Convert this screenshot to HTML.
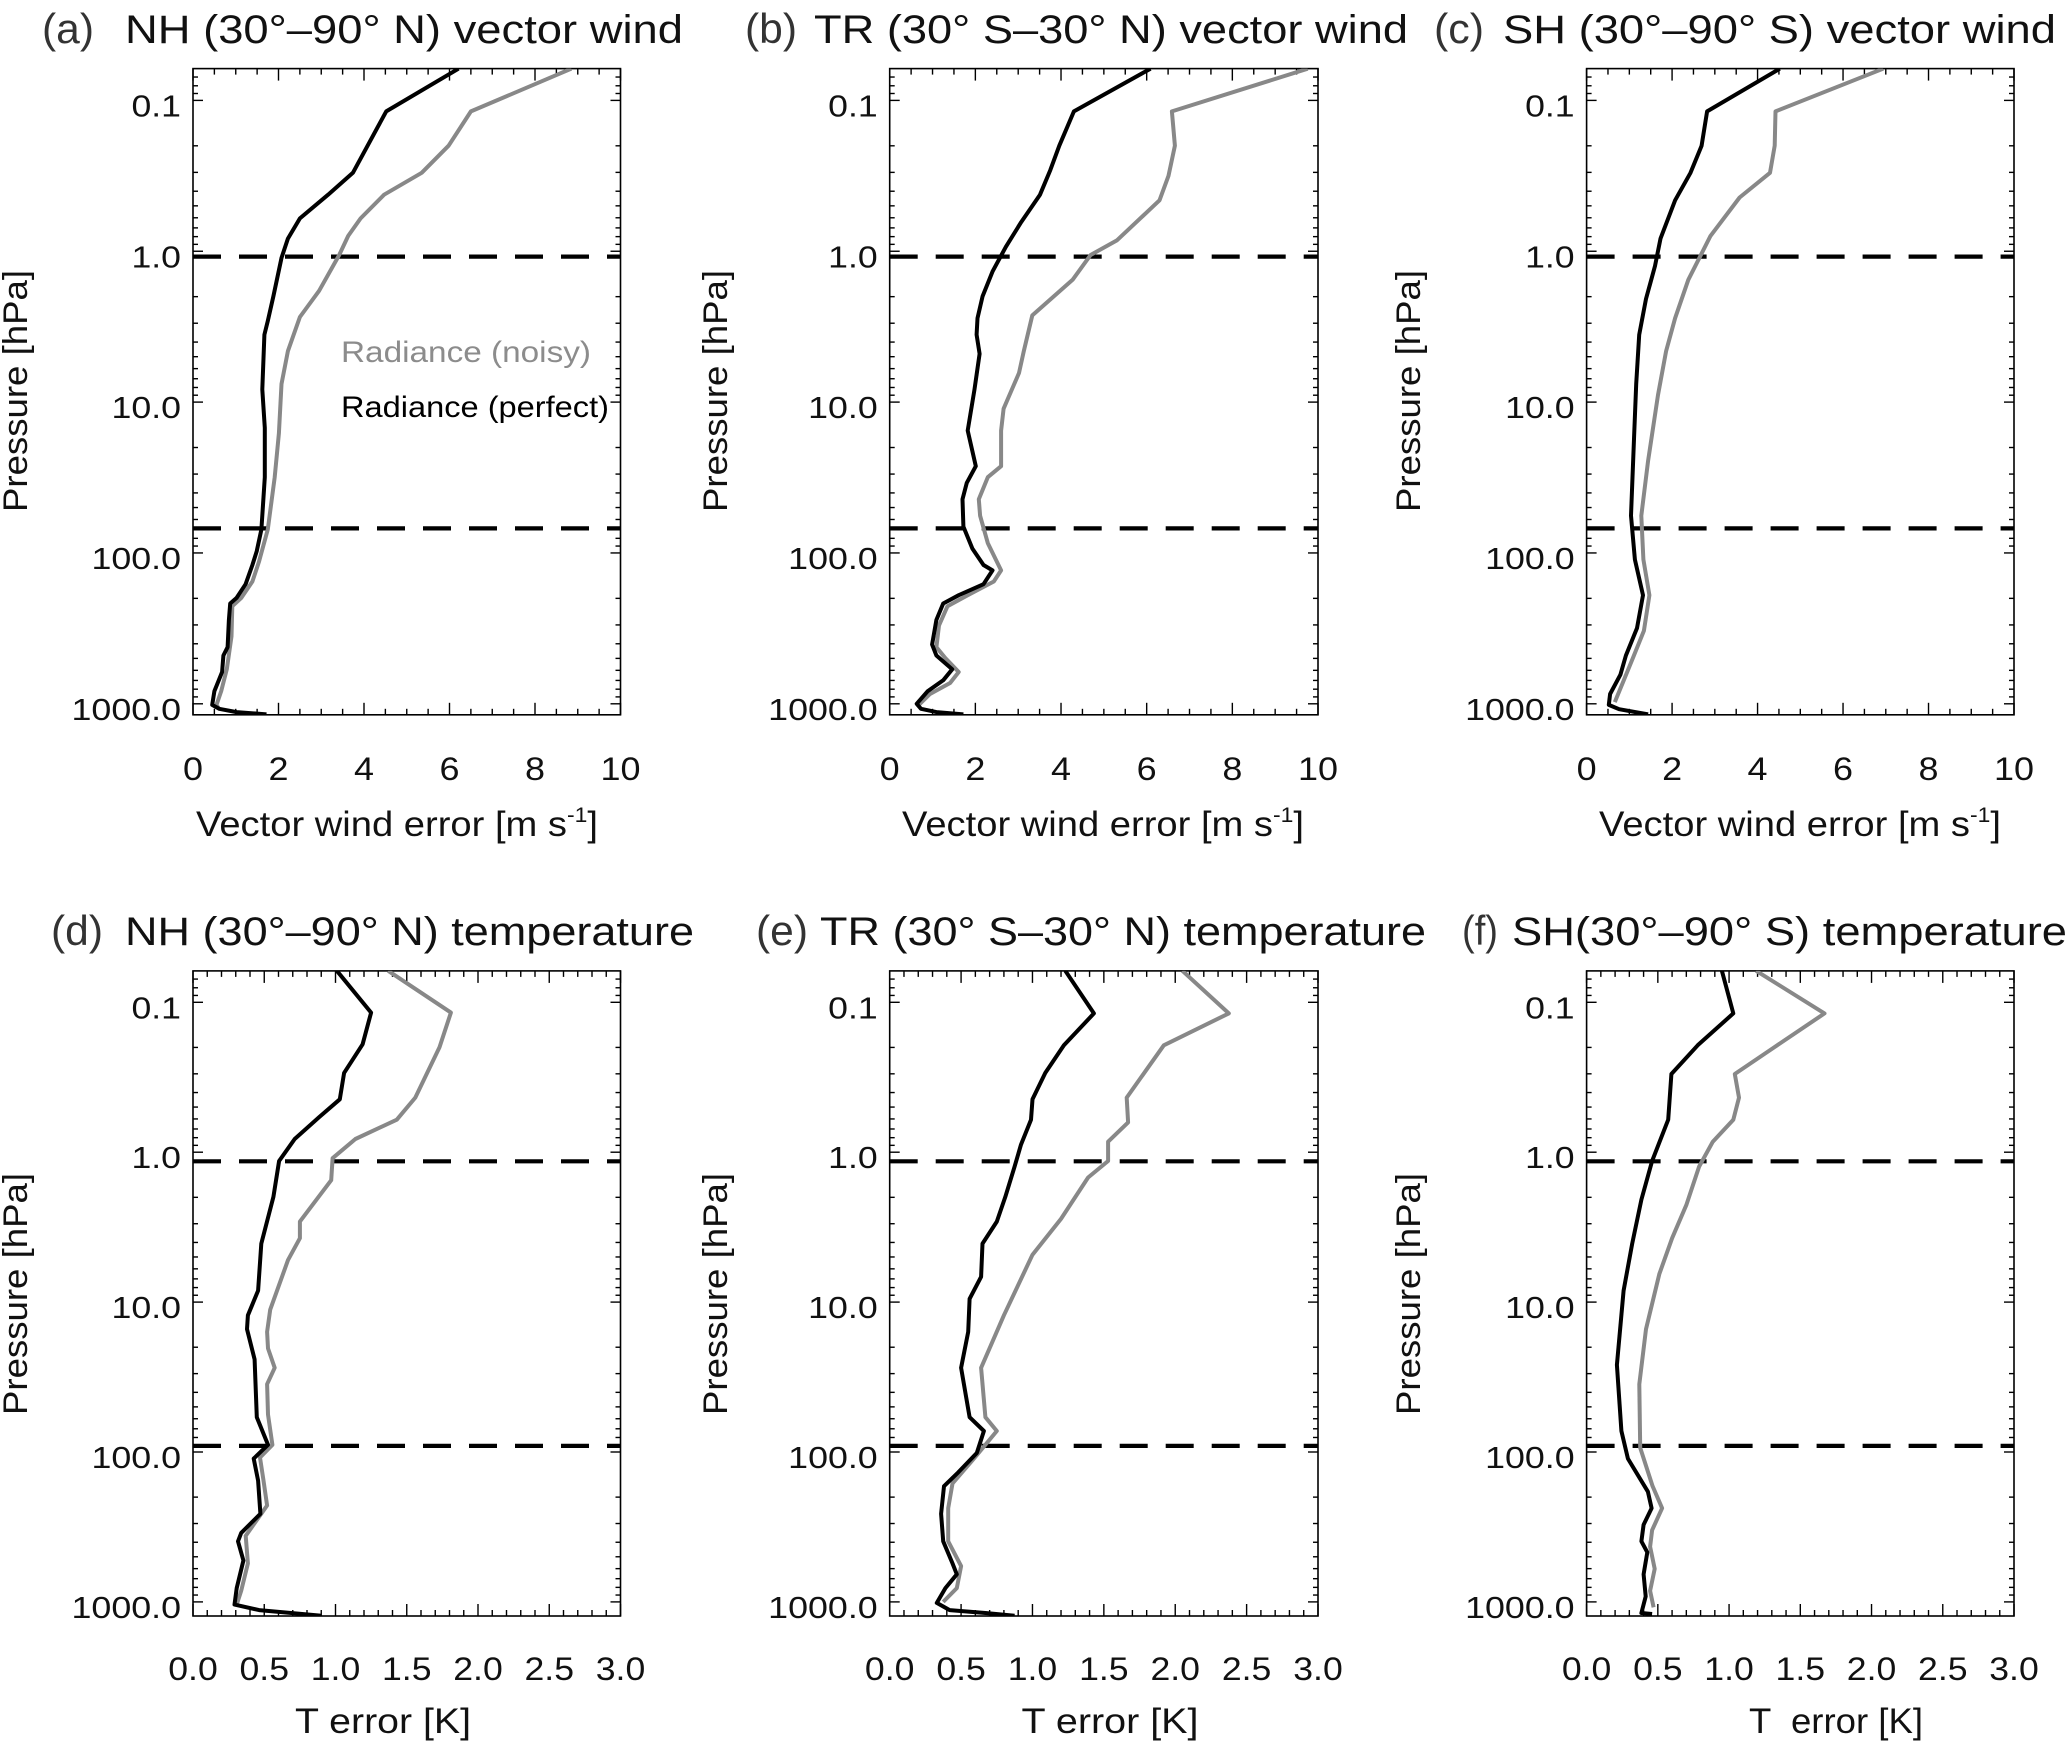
<!DOCTYPE html>
<html><head><meta charset="utf-8"><style>
html,body{margin:0;padding:0;background:#fff;}
svg{display:block;font-family:"Liberation Sans",Arial,sans-serif;}
</style></head><body>
<svg id="fig" width="2067" height="1744" viewBox="0 0 2067 1744" xmlns="http://www.w3.org/2000/svg"></svg>
<script>
// ---- data (x = error value, lp = log10 pressure [hPa]) ----
const aBlackX=[6.21,4.52,3.74,3.16,2.5,2.22,2.07,1.88,1.75,1.67,1.62,1.68,1.68,1.60,1.49,1.39,1.23,1.02,0.87,0.84,0.81,0.71,0.68,0.50,0.45,0.61,1.02,1.72];
const aBlackLP=[-1.21,-0.927,-0.52,-0.375,-0.218,-0.084,0.044,0.298,0.462,0.553,0.916,1.171,1.498,1.844,1.989,2.08,2.207,2.298,2.335,2.444,2.625,2.68,2.789,2.916,3.007,3.033,3.055,3.07];
const aGrayX=[8.85,6.5,5.98,5.35,4.47,3.92,3.63,3.42,2.95,2.5,2.22,2.07,2.01,1.91,1.75,1.54,1.39,1.13,0.92,0.90,0.79,0.66,0.55,0.6];
const aGrayLP=[-1.21,-0.927,-0.70,-0.52,-0.375,-0.218,-0.102,0.025,0.262,0.436,0.662,0.88,1.207,1.498,1.844,2.062,2.189,2.298,2.353,2.553,2.771,2.916,3.007,3.03];
const bBlackX=[6.09,4.30,3.96,3.75,3.51,3.07,2.71,2.40,2.17,2.05,2.03,2.10,1.98,1.82,2.01,1.80,1.70,1.72,1.93,2.19,2.40,2.19,1.61,1.25,1.09,0.99,1.09,1.46,1.25,0.89,0.63,0.73,1.09,1.72];
const bBlackLP=[-1.21,-0.927,-0.70,-0.538,-0.375,-0.193,-0.029,0.135,0.298,0.444,0.553,0.68,0.916,1.189,1.425,1.535,1.644,1.825,1.971,2.08,2.116,2.207,2.28,2.335,2.444,2.607,2.68,2.771,2.844,2.916,3.0,3.033,3.055,3.07];
const bGrayX=[9.76,6.59,6.66,6.51,6.30,5.31,4.69,4.27,3.33,3.13,3.02,2.66,2.60,2.60,2.29,2.08,2.11,2.29,2.60,2.43,1.82,1.35,1.15,1.09,1.30,1.61,1.41,0.94,0.68];
const bGrayLP=[-1.21,-0.927,-0.70,-0.50,-0.338,-0.073,0.025,0.189,0.425,0.662,0.807,1.044,1.189,1.425,1.498,1.644,1.753,1.935,2.116,2.189,2.28,2.353,2.48,2.625,2.698,2.789,2.862,2.935,3.007];
const cBlackX=[4.52,2.82,2.69,2.43,2.07,1.73,1.60,1.39,1.23,1.16,1.11,1.04,1.13,1.32,1.18,0.92,0.79,0.55,0.52,0.76,1.44];
const cBlackLP=[-1.21,-0.927,-0.70,-0.52,-0.338,-0.084,0.098,0.316,0.553,0.88,1.244,1.753,2.044,2.28,2.498,2.68,2.807,2.935,3.007,3.036,3.07];
const cGrayX=[6.94,4.42,4.40,4.29,3.58,2.90,2.38,2.07,1.86,1.67,1.44,1.28,1.33,1.47,1.34,1.08,0.87,0.66];
const cGrayLP=[-1.21,-0.927,-0.70,-0.52,-0.356,-0.102,0.189,0.444,0.662,0.953,1.389,1.753,2.044,2.28,2.516,2.698,2.844,2.989];
const dBlackX=[1.01,1.25,1.19,1.06,1.03,0.886,0.714,0.604,0.564,0.479,0.457,0.385,0.379,0.432,0.448,0.526,0.426,0.457,0.473,0.338,0.316,0.354,0.307,0.291,0.464,0.902];
const dBlackLP=[-1.21,-0.931,-0.72,-0.529,-0.353,-0.235,-0.088,0.059,0.298,0.61,0.923,1.088,1.18,1.382,1.768,1.952,2.044,2.191,2.412,2.54,2.596,2.724,2.908,3.018,3.055,3.092];
const dGrayX=[1.37,1.81,1.73,1.56,1.43,1.14,0.98,0.97,0.75,0.75,0.667,0.542,0.52,0.526,0.573,0.52,0.526,0.557,0.47,0.495,0.52,0.37,0.385,0.338,0.307];
const dGrayLP=[-1.21,-0.931,-0.70,-0.364,-0.217,-0.088,0.04,0.187,0.463,0.574,0.72,1.051,1.199,1.309,1.438,1.548,1.75,1.952,2.037,2.191,2.357,2.559,2.743,2.926,3.018];
const eBlackX=[1.23,1.43,1.22,1.09,1.0,0.99,0.92,0.875,0.81,0.75,0.65,0.64,0.56,0.55,0.50,0.56,0.66,0.61,0.48,0.38,0.36,0.375,0.44,0.47,0.39,0.33,0.42,0.67,0.875];
const eBlackLP=[-1.21,-0.926,-0.713,-0.529,-0.353,-0.217,-0.051,0.096,0.298,0.463,0.61,0.831,0.978,1.199,1.438,1.768,1.86,2.007,2.136,2.228,2.412,2.596,2.743,2.816,2.908,3.007,3.055,3.074,3.092];
const eGrayX=[2.05,2.375,1.92,1.66,1.67,1.53,1.53,1.39,1.20,1.00,0.80,0.64,0.67,0.75,0.59,0.44,0.41,0.41,0.50,0.47,0.375];
const eGrayLP=[-1.21,-0.926,-0.713,-0.364,-0.199,-0.07,0.059,0.169,0.445,0.684,1.088,1.438,1.768,1.86,2.044,2.21,2.375,2.596,2.761,2.908,3.0];
const fBlackX=[0.95,1.03,0.78,0.595,0.573,0.46,0.385,0.32,0.26,0.213,0.244,0.29,0.43,0.456,0.40,0.385,0.426,0.40,0.415,0.385,0.46];
const fBlackLP=[-1.21,-0.926,-0.713,-0.522,-0.217,0.059,0.316,0.61,0.923,1.419,1.86,2.044,2.265,2.375,2.485,2.596,2.669,2.816,2.963,3.074,3.081];
const fGrayX=[1.19,1.67,1.31,1.04,1.07,1.03,0.886,0.79,0.70,0.60,0.51,0.417,0.37,0.376,0.463,0.53,0.46,0.446,0.478,0.446,0.47];
const fGrayLP=[-1.21,-0.926,-0.695,-0.522,-0.364,-0.217,-0.07,0.096,0.353,0.574,0.813,1.18,1.548,1.971,2.228,2.375,2.522,2.632,2.779,2.926,3.036];
const yTickValues=[0.1,1,10,100,1000];
const yTickLabels=["0.1","1.0","10.0","100.0","1000.0"];
const windTickLabels=["0","2","4","6","8","10"];
const tempTickLabels=["0.0","0.5","1.0","1.5","2.0","2.5","3.0"];
const dashedPressures=[[1.086,68.7],[1.15,91]];

const NS="http://www.w3.org/2000/svg";
const svg=document.getElementById('fig');
function mk(tag,attrs,parent){const e=document.createElementNS(NS,tag);for(const k in attrs)e.setAttribute(k,attrs[k]);(parent||svg).appendChild(e);return e;}
function lblW(s){let w=0;for(const ch of s)w+=(ch==='.')?9.5:20;return w;}

const rows=[{top:68.6,bot:714.8,y01:100.4,dec:150.85,xtickY:780,xtitleY:836,titleY:43,ylabCY:391},
            {top:970.9,bot:1616,y01:1002.3,dec:149.9,xtickY:1680,xtitleY:1733,titleY:945,ylabCY:1294}];
const cols=[{l:193,r:620.5,ylabX:27},{l:889.7,r:1318,ylabX:727},{l:1586.6,r:2014,ylabX:1420}];

const panels=[
 {id:'a',row:0,col:0,xmax:10,maj:2,min:0.5,ticks:windTickLabels,bx:aBlackX,by:aBlackLP,gx:aGrayX,gy:aGrayLP,
  lab:'(a)',labX:42,labW:52,title:'NH (30°–90° N) vector wind',tX:125,tW:558,xt:'wind',xtC:397,xtW:402},
 {id:'b',row:0,col:1,xmax:10,maj:2,min:0.5,ticks:windTickLabels,bx:bBlackX,by:bBlackLP,gx:bGrayX,gy:bGrayLP,
  lab:'(b)',labX:745,labW:52,title:'TR (30° S–30° N) vector wind',tX:814,tW:594,xt:'wind',xtC:1103,xtW:402},
 {id:'c',row:0,col:2,xmax:10,maj:2,min:0.5,ticks:windTickLabels,bx:cBlackX,by:cBlackLP,gx:cGrayX,gy:cGrayLP,
  lab:'(c)',labX:1434,labW:50,title:'SH (30°–90° S) vector wind',tX:1503,tW:553,xt:'wind',xtC:1800,xtW:402},
 {id:'d',row:1,col:0,xmax:3,maj:0.5,min:0.1,ticks:tempTickLabels,bx:dBlackX,by:dBlackLP,gx:dGrayX,gy:dGrayLP,
  lab:'(d)',labX:51,labW:52,title:'NH (30°–90° N) temperature',tX:125,tW:569,xt:'T error [K]',xtC:383,xtW:176},
 {id:'e',row:1,col:1,xmax:3,maj:0.5,min:0.1,ticks:tempTickLabels,bx:eBlackX,by:eBlackLP,gx:eGrayX,gy:eGrayLP,
  lab:'(e)',labX:756,labW:52,title:'TR (30° S–30° N) temperature',tX:820,tW:606,xt:'T error [K]',xtC:1110,xtW:177},
 {id:'f',row:1,col:2,xmax:3,maj:0.5,min:0.1,ticks:tempTickLabels,bx:fBlackX,by:fBlackLP,gx:fGrayX,gy:fGrayLP,
  lab:'(f)',labX:1462,labW:36,title:'SH(30°–90° S) temperature',tX:1512,tW:555,xt:'T  error [K]',xtC:1836,xtW:174}
];

panels.forEach(P=>{
  const R=rows[P.row],C=cols[P.col];
  const g=mk('g',{});
  
  
  const xs=v=>C.l+(v/P.xmax)*(C.r-C.l);
  const ys=lp=>R.y01+(lp+1)*R.dec;
  const cp=mk('clipPath',{id:'clip'+P.id},g);
  mk('rect',{x:C.l,y:R.top,width:C.r-C.l,height:R.bot-R.top},cp);
  const lab=mk('text',{x:P.labX,y:R.titleY,'font-size':42,fill:'#333',textLength:P.labW,lengthAdjust:'spacingAndGlyphs'},g);
  lab.textContent=P.lab;
  
  
  const t=mk('text',{x:P.tX,y:R.titleY,'font-size':40,fill:'#111',textLength:P.tW,lengthAdjust:'spacingAndGlyphs'},g);
  t.textContent=P.title;
  
  
  const lpMin=(R.top-R.y01)/R.dec-1, lpMax=(R.bot-R.y01)/R.dec-1;
  for(let d=-2;d<=3;d++){for(let m=1;m<=9;m++){
    const lp=d+Math.log10(m); if(lp<lpMin||lp>lpMax)continue;
    const len=m===1?10:5, y=ys(lp);
    mk('line',{x1:C.l,x2:C.l+len,y1:y,y2:y,stroke:'#000','stroke-width':1.4},g);
    mk('line',{x1:C.r,x2:C.r-len,y1:y,y2:y,stroke:'#000','stroke-width':1.4},g);
  }}
  yTickValues.forEach((v,i)=>{
    const s=yTickLabels[i];
    const tt=mk('text',{x:C.l-12,y:ys(Math.log10(v))+16,'font-size':31,'text-anchor':'end',fill:'#111',textLength:lblW(s),lengthAdjust:'spacingAndGlyphs'},g);
    tt.textContent=s;
    
    
  });
  const nMin=Math.round(P.xmax/P.min);
  for(let k=0;k<=nMin;k++){
    const v=k*P.min, isMaj=Math.abs(v/P.maj-Math.round(v/P.maj))<1e-6, len=isMaj?12:6, x=xs(v);
    mk('line',{x1:x,x2:x,y1:R.bot,y2:R.bot-len,stroke:'#000','stroke-width':1.4},g);
    mk('line',{x1:x,x2:x,y1:R.top,y2:R.top+len,stroke:'#000','stroke-width':1.4},g);
  }
  P.ticks.forEach((s,i)=>{
    const tt=mk('text',{x:xs(i*P.maj),y:R.xtickY,'font-size':32,'text-anchor':'middle',fill:'#111',textLength:lblW(s),lengthAdjust:'spacingAndGlyphs'},g);
    tt.textContent=s;
    
    
  });
  const box=mk('rect',{x:C.l,y:R.top,width:C.r-C.l,height:R.bot-R.top,fill:'none',stroke:'#000','stroke-width':1.6},g);
  
  
  dashedPressures[P.row].forEach(p=>{
    const y=ys(Math.log10(p));
    const dl=mk('line',{x1:C.l,x2:C.r,y1:y,y2:y,stroke:'#000','stroke-width':4.2,'stroke-dasharray':'28 18'},g);
    
    
  });
  const path=(X,Y)=>X.map((v,i)=>(i?'L':'M')+xs(v).toFixed(1)+' '+ys(Y[i]).toFixed(1)).join(' ');
  const gp=mk('path',{d:path(P.gx,P.gy),fill:'none',stroke:'#888','stroke-width':4,'stroke-linejoin':'round','clip-path':'url(#clip'+P.id+')'},g);
  
  
  const bp=mk('path',{d:path(P.bx,P.by),fill:'none',stroke:'#000','stroke-width':4,'stroke-linejoin':'round','clip-path':'url(#clip'+P.id+')'},g);
  
  
  const yt=mk('text',{x:0,y:0,'font-size':34,'text-anchor':'middle',fill:'#111',textLength:242,lengthAdjust:'spacingAndGlyphs',transform:'translate('+C.ylabX+','+R.ylabCY+') rotate(-90)'},g);
  yt.textContent='Pressure [hPa]';
  
  
  const xt=mk('text',{x:P.xtC,y:R.xtitleY,'font-size':35,'text-anchor':'middle',fill:'#111'},g);
  xt.setAttribute('textLength',P.xtW);
  xt.setAttribute('lengthAdjust','spacingAndGlyphs');
  if(P.xt==='wind'){
    xt.appendChild(document.createTextNode('Vector wind error [m s'));
    const sup=mk('tspan',{'font-size':21,dy:-14},xt); sup.textContent='-1';
    const rest=mk('tspan',{dy:14},xt); rest.textContent=']';
  } else {
    xt.style.whiteSpace='pre'; xt.textContent=P.xt;
  }
  
  
});
const l1=mk('text',{x:341,y:362,'font-size':30,fill:'#8c8c8c',textLength:250,lengthAdjust:'spacingAndGlyphs'});
l1.textContent='Radiance (noisy)';


const l2=mk('text',{x:341,y:417,'font-size':30,fill:'#000',textLength:268,lengthAdjust:'spacingAndGlyphs'});
l2.textContent='Radiance (perfect)';


</script>
</body></html>
